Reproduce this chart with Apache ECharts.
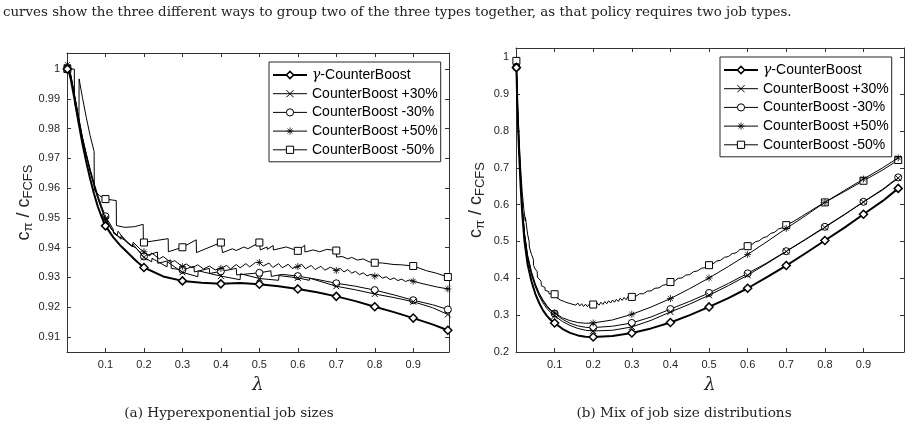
<!DOCTYPE html>
<html>
<head>
<meta charset="utf-8">
<title>CounterBoost</title>
<script src="https://cdn.jsdelivr.net/npm/echarts@6/dist/echarts.min.js"></script>
<style>
    html, body { margin: 0; padding: 0; background: #fff; }
    #main { width: 912px; height: 429px; }
</style>
</head>
<body>
<div id="main"></div>
<script>
// ticks
var xTicks = [0.1, 0.2, 0.3, 0.4, 0.5, 0.6, 0.7, 0.8, 0.9];
var leftYTicks = [0.91, 0.92, 0.93, 0.94, 0.95, 0.96, 0.97, 0.98, 0.99, 1];
var rightYTicks = [0.2, 0.3, 0.4, 0.5, 0.6, 0.7, 0.8, 0.9, 1];
// lambda values that carry a marker
var markerLambdas = [0.001, 0.1, 0.2, 0.3, 0.4, 0.5, 0.6, 0.7, 0.8, 0.9, 0.99];

var seriesNames = ['γ-CounterBoost', 'CounterBoost +30%', 'CounterBoost -30%', 'CounterBoost +50%', 'CounterBoost -50%'];

// (a) Hyperexponential job sizes  [lambda, c_pi / c_FCFS]
var leftGamma = [[0.001,1.0],[0.005,0.999],[0.01,0.9965],[0.02,0.9895],[0.03,0.982],[0.04,0.975],[0.05,0.9688],[0.06,0.9632],[0.07,0.9582],[0.08,0.9538],[0.09,0.9503],[0.1,0.9473],[0.12,0.9435],[0.14,0.9405],[0.16,0.938],[0.18,0.9355],[0.2,0.9333],[0.25,0.9303],[0.3,0.9288],[0.35,0.9282],[0.4,0.9278],[0.45,0.9281],[0.5,0.9277],[0.55,0.927],[0.6,0.9261],[0.65,0.925],[0.7,0.9236],[0.75,0.922],[0.8,0.9201],[0.85,0.9183],[0.9,0.9163],[0.95,0.9142],[0.99,0.9122]];

var leftPlus30 = [[0.001,1.0005],[0.01,0.9975],[0.02,0.9905],[0.03,0.9832],[0.04,0.9765],[0.05,0.9708],[0.06,0.9655],[0.07,0.9608],[0.08,0.9565],[0.09,0.9528],[0.1,0.9495],[0.12,0.9455],[0.14,0.9428],[0.141,0.944],[0.17,0.9402],[0.171,0.9412],[0.2,0.9367],[0.22,0.9352],[0.221,0.9364],[0.26,0.9335],[0.261,0.9352],[0.3,0.9317],[0.34,0.9302],[0.341,0.9322],[0.4,0.9304],[0.45,0.9292],[0.451,0.9312],[0.5,0.9296],[0.55,0.929],[0.551,0.9306],[0.6,0.9298],[0.63,0.929],[0.631,0.9297],[0.7,0.927],[0.75,0.9258],[0.8,0.9244],[0.85,0.9232],[0.9,0.9218],[0.95,0.9198],[0.99,0.9175]];

var leftMinus30 = [[0.001,1.0],[0.01,0.9978],[0.02,0.991],[0.03,0.9838],[0.04,0.9772],[0.05,0.9715],[0.06,0.9664],[0.07,0.9618],[0.08,0.9576],[0.09,0.9539],[0.1,0.9505],[0.12,0.9462],[0.121,0.9448],[0.15,0.9425],[0.16,0.9412],[0.18,0.9398],[0.2,0.937],[0.235,0.9385],[0.236,0.9347],[0.27,0.9358],[0.271,0.933],[0.3,0.9325],[0.33,0.9337],[0.331,0.9318],[0.37,0.933],[0.371,0.9313],[0.4,0.932],[0.44,0.933],[0.441,0.9308],[0.5,0.9315],[0.53,0.9322],[0.531,0.9303],[0.56,0.931],[0.6,0.9304],[0.65,0.9293],[0.7,0.928],[0.75,0.927],[0.8,0.9257],[0.85,0.9241],[0.9,0.9223],[0.95,0.9208],[0.99,0.9192]];

var leftPlus50 = [[0.001,1.0015],[0.01,0.998],[0.02,0.991],[0.03,0.984],[0.04,0.977],[0.05,0.9715],[0.06,0.966],[0.07,0.9615],[0.08,0.957],[0.09,0.9532],[0.1,0.9498],[0.115,0.9462],[0.13,0.944],[0.133,0.9455],[0.15,0.9425],[0.17,0.9405],[0.172,0.9418],[0.19,0.9395],[0.2,0.9386],[0.215,0.9372],[0.22,0.9382],[0.24,0.9362],[0.25,0.937],[0.27,0.935],[0.28,0.9356],[0.3,0.9336],[0.31,0.9345],[0.325,0.9332],[0.34,0.9342],[0.355,0.9328],[0.37,0.9338],[0.385,0.9325],[0.4,0.933],[0.415,0.934],[0.425,0.9328],[0.44,0.9343],[0.45,0.9332],[0.465,0.9346],[0.475,0.9335],[0.49,0.935],[0.5,0.935],[0.51,0.9338],[0.525,0.9348],[0.535,0.9333],[0.55,0.9346],[0.56,0.9332],[0.575,0.9344],[0.585,0.933],[0.6,0.9336],[0.61,0.9344],[0.62,0.9329],[0.635,0.934],[0.645,0.9326],[0.66,0.9337],[0.67,0.9324],[0.685,0.9334],[0.7,0.9323],[0.71,0.933],[0.72,0.9318],[0.73,0.9326],[0.74,0.9314],[0.75,0.932],[0.76,0.9309],[0.77,0.9315],[0.78,0.9305],[0.79,0.931],[0.8,0.9304],[0.81,0.9308],[0.82,0.9297],[0.83,0.9302],[0.84,0.9292],[0.85,0.9298],[0.86,0.9289],[0.87,0.9294],[0.88,0.9286],[0.89,0.9291],[0.9,0.9287],[0.92,0.928],[0.94,0.9274],[0.96,0.9268],[0.99,0.9261]];

var leftMinus50 = [[0.001,1.0],[0.019,1.0],[0.0195,0.989],[0.025,0.9855],[0.031,0.9815],[0.0315,0.9967],[0.04,0.9905],[0.05,0.9838],[0.06,0.9777],[0.0705,0.9723],[0.071,0.9592],[0.085,0.9574],[0.1,0.9563],[0.128,0.9558],[0.1285,0.9474],[0.15,0.9468],[0.175,0.947],[0.198,0.9478],[0.1985,0.9417],[0.2,0.9417],[0.263,0.943],[0.2635,0.9386],[0.3,0.9401],[0.336,0.9426],[0.3365,0.9383],[0.4,0.9417],[0.404,0.942],[0.4045,0.9383],[0.43,0.9396],[0.44,0.939],[0.46,0.9402],[0.47,0.9396],[0.5,0.9417],[0.502,0.9418],[0.5025,0.9392],[0.52,0.9402],[0.521,0.9394],[0.536,0.9407],[0.5365,0.9392],[0.57,0.9402],[0.6,0.9389],[0.618,0.9408],[0.6185,0.9385],[0.64,0.9392],[0.657,0.9386],[0.675,0.9394],[0.7,0.939],[0.7005,0.9368],[0.715,0.937],[0.73,0.9362],[0.74,0.9367],[0.755,0.9358],[0.77,0.9362],[0.785,0.9352],[0.8,0.9349],[0.82,0.9348],[0.85,0.9343],[0.87,0.9342],[0.9,0.9338],[0.935,0.9322],[0.96,0.9314],[0.99,0.9301]];

// (b) Mix of job size distributions
var rightGamma = [[0.001,0.9717],[0.004,0.85],[0.008,0.74],[0.012,0.65],[0.016,0.578],[0.022,0.5],[0.03,0.438],[0.04,0.392],[0.05,0.358],[0.06,0.333],[0.07,0.313],[0.08,0.298],[0.09,0.287],[0.1,0.2788],[0.12,0.263],[0.14,0.252],[0.16,0.245],[0.18,0.2415],[0.2,0.2408],[0.25,0.2435],[0.3,0.2516],[0.35,0.264],[0.4,0.28],[0.45,0.3],[0.5,0.3223],[0.55,0.346],[0.6,0.373],[0.65,0.403],[0.7,0.4346],[0.75,0.468],[0.8,0.5025],[0.85,0.537],[0.9,0.5738],[0.95,0.61],[0.99,0.644]];

var rightPlus30 = [[0.001,0.973],[0.004,0.855],[0.008,0.748],[0.012,0.66],[0.016,0.59],[0.022,0.515],[0.03,0.455],[0.04,0.41],[0.05,0.377],[0.06,0.352],[0.07,0.333],[0.08,0.318],[0.09,0.307],[0.1,0.298],[0.12,0.283],[0.14,0.272],[0.16,0.264],[0.18,0.259],[0.2,0.257],[0.25,0.259],[0.3,0.268],[0.35,0.286],[0.4,0.3087],[0.45,0.33],[0.5,0.354],[0.55,0.38],[0.6,0.4084],[0.65,0.44],[0.7,0.4727],[0.75,0.505],[0.8,0.538],[0.85,0.572],[0.9,0.607],[0.95,0.64],[0.99,0.672]];

var rightMinus30 = [[0.001,0.974],[0.004,0.858],[0.008,0.752],[0.012,0.665],[0.016,0.595],[0.022,0.52],[0.03,0.46],[0.04,0.415],[0.05,0.382],[0.06,0.357],[0.07,0.338],[0.08,0.323],[0.09,0.312],[0.1,0.3043],[0.12,0.289],[0.14,0.278],[0.16,0.271],[0.18,0.267],[0.2,0.2663],[0.25,0.27],[0.3,0.2788],[0.35,0.295],[0.4,0.3165],[0.45,0.3375],[0.5,0.3603],[0.55,0.386],[0.6,0.4135],[0.65,0.442],[0.7,0.4736],[0.75,0.506],[0.8,0.5397],[0.85,0.573],[0.9,0.6076],[0.95,0.642],[0.99,0.6739]];

var rightPlus50 = [[0.001,0.975],[0.004,0.86],[0.008,0.755],[0.012,0.668],[0.016,0.598],[0.022,0.523],[0.03,0.463],[0.04,0.418],[0.05,0.385],[0.06,0.36],[0.07,0.341],[0.08,0.326],[0.09,0.314],[0.1,0.306],[0.12,0.293],[0.14,0.285],[0.16,0.28],[0.18,0.278],[0.2,0.2788],[0.25,0.287],[0.3,0.3024],[0.35,0.322],[0.4,0.345],[0.45,0.372],[0.5,0.401],[0.55,0.432],[0.6,0.4647],[0.65,0.4995],[0.7,0.5353],[0.75,0.57],[0.8,0.606],[0.85,0.638],[0.9,0.6693],[0.95,0.7],[0.99,0.727]];

var rightMinus50 = [[0.001,0.99],[0.004,0.88],[0.008,0.78],[0.012,0.7],[0.016,0.635],[0.02,0.59],[0.024,0.555],[0.0245,0.565],[0.03,0.52],[0.034,0.5],[0.0345,0.485],[0.04,0.465],[0.045,0.452],[0.0455,0.435],[0.05,0.425],[0.055,0.418],[0.0555,0.403],[0.06,0.398],[0.065,0.392],[0.0655,0.38],[0.07,0.378],[0.075,0.375],[0.0755,0.367],[0.08,0.366],[0.085,0.364],[0.0855,0.358],[0.09,0.3575],[0.1,0.3568],
    [0.105,0.348],[0.11,0.351],[0.115,0.341],[0.12,0.346],[0.125,0.337],[0.13,0.342],[0.135,0.333],[0.14,0.338],[0.145,0.33],[0.15,0.335],[0.155,0.327],[0.16,0.333],[0.165,0.325],[0.17,0.331],[0.175,0.3235],[0.18,0.33],[0.185,0.323],[0.19,0.33],[0.195,0.324],[0.2,0.3288],
    [0.205,0.325],[0.21,0.333],[0.215,0.327],[0.22,0.335],[0.225,0.329],[0.23,0.337],[0.235,0.331],[0.24,0.339],[0.245,0.333],[0.25,0.341],[0.255,0.335],[0.26,0.343],[0.265,0.337],[0.27,0.346],[0.275,0.34],[0.28,0.348],[0.285,0.342],[0.29,0.35],[0.295,0.344],[0.3,0.3495],
    [0.31,0.351],[0.32,0.358],[0.33,0.358],[0.34,0.365],[0.35,0.366],[0.36,0.373],[0.37,0.374],[0.38,0.381],[0.39,0.383],[0.4,0.39],
    [0.41,0.392],[0.42,0.4],[0.43,0.401],[0.44,0.409],[0.45,0.41],[0.46,0.418],[0.47,0.42],[0.48,0.427],[0.49,0.429],[0.5,0.4356],
    [0.51,0.439],[0.52,0.447],[0.53,0.449],[0.54,0.457],[0.55,0.459],[0.56,0.467],[0.57,0.469],[0.58,0.478],[0.59,0.48],[0.6,0.4872],
    [0.61,0.491],[0.62,0.499],[0.63,0.502],[0.64,0.51],[0.65,0.513],[0.66,0.522],[0.67,0.525],[0.68,0.534],[0.69,0.537],[0.7,0.5443],
    [0.72,0.555],[0.74,0.568],[0.76,0.581],[0.78,0.594],[0.8,0.606],[0.85,0.635],[0.9,0.6647],[0.95,0.694],[0.99,0.721]];

var chart = echarts.init(document.getElementById('main'));

var axisColor = '#333';
var labelColor = '#262626';

// marker styles, same order as seriesNames
var markStyles = [
    {symbol: 'diamond', size: 8, fill: '#fff', width: 2, border: 1.5, z: 6},
    {symbol: 'path://M0,0L10,10M10,0L0,10', size: 6, fill: '#000', width: 1, border: 1, z: 4},
    {symbol: 'circle', size: 7, fill: '#fff', width: 1, border: 1, z: 3},
    {symbol: 'path://M5,0L5,10M0,5L10,5M1.5,1.5L8.5,8.5M8.5,1.5L1.5,8.5', size: 7, fill: '#000', width: 1, border: 0.8, z: 5},
    {symbol: 'rect', size: 7, fill: '#fff', width: 1, border: 1, z: 2}
];

function withMarkers(points) {
    return points.map(function (p) {
        var hit = markerLambdas.some(function (m) { return Math.abs(m - p[0]) < 1e-9; });
        return hit ? p : {value: p, symbol: 'none'};
    });
}

function makeSeries(i, points, panel) {
    var st = markStyles[i];
    return {
        name: seriesNames[i],
        type: 'line',
        xAxisIndex: panel * 2,
        yAxisIndex: panel * 2,
        data: withMarkers(points),
        symbol: st.symbol,
        symbolSize: st.size,
        showAllSymbol: true,
        lineStyle: {color: '#000', width: st.width},
        itemStyle: {color: st.fill, borderColor: '#000', borderWidth: st.border},
        emphasis: {disabled: true},
        z: st.z
    };
}

var yName = '{c|c}{s|π}{c| / c}{s|FCFS}';
var yNameStyle = {
    rich: {
        c: {fontFamily: 'Liberation Sans', fontSize: 18, color: labelColor, lineHeight: 20, verticalAlign: 'top'},
        s: {fontFamily: 'Liberation Sans', fontSize: 13, color: labelColor, lineHeight: 13, padding: [14, 0, 0, 0], verticalAlign: 'bottom'}
    }
};

function xAxisFor(gridIndex, max, top) {
    return {
        type: 'value', gridIndex: gridIndex, min: 0, max: max,
        position: top ? 'top' : 'bottom',
        axisLine: {show: true, onZero: false, lineStyle: {color: axisColor, width: 1}},
        axisTick: {show: true, inside: true, length: 4, customValues: xTicks, lineStyle: {color: axisColor}},
        axisLabel: {show: !top, customValues: xTicks, margin: 7, fontFamily: 'Liberation Sans', fontSize: 11, color: labelColor,
            formatter: function (v) { return v.toFixed(1); }},
        splitLine: {show: false},
        name: top ? '' : 'λ', nameLocation: 'middle', nameGap: 24,
        nameTextStyle: {fontFamily: 'DejaVu Serif', fontStyle: 'italic', fontSize: 18, color: labelColor}
    };
}

function yAxisFor(gridIndex, min, max, ticks, digits, right, gap) {
    return {
        type: 'value', gridIndex: gridIndex, min: min, max: max,
        position: right ? 'right' : 'left',
        axisLine: {show: true, onZero: false, lineStyle: {color: axisColor, width: 1}},
        axisTick: {show: true, inside: true, length: 4, customValues: ticks, lineStyle: {color: axisColor}},
        axisLabel: {show: !right, customValues: ticks, margin: 7, fontFamily: 'Liberation Sans', fontSize: 11, color: labelColor,
            formatter: function (v) { return v === 1 ? '1' : v.toFixed(digits); }},
        splitLine: {show: false},
        name: right ? '' : yName, nameLocation: 'middle', nameRotate: 90, nameGap: gap,
        nameTextStyle: yNameStyle
    };
}

function legendAt(left, top) {
    return {
        orient: 'vertical', left: left, top: top,
        padding: [6, 3, 5, 3], itemGap: 4.7, itemWidth: 34, itemHeight: 9,
        borderColor: '#262626', borderWidth: 1, backgroundColor: '#fff',
        selectedMode: false,
        data: seriesNames.map(function (n, i) {
            return {
                name: n,
                lineStyle: {width: markStyles[i].width},
                itemStyle: {borderWidth: markStyles[i].border}
            };
        }),
        formatter: function (n) { return n === seriesNames[0] ? '{g|γ}-CounterBoost' : n; },
        textStyle: {
            fontFamily: 'Liberation Sans', fontSize: 14, color: '#000', lineHeight: 14,
            rich: {g: {fontFamily: 'DejaVu Serif', fontStyle: 'italic', fontSize: 14, lineHeight: 14, color: '#000'}}
        }
    };
}

var serifText = {fontFamily: 'DejaVu Serif', fontSize: 13.6, fill: '#222'};

var option = {
    animation: false,
    backgroundColor: '#fff',
    grid: [
        {left: 67, top: 53, width: 382, height: 299},
        {left: 516, top: 48, width: 388, height: 304}
    ],
    xAxis: [
        xAxisFor(0, 0.993, false), xAxisFor(0, 0.993, true),
        xAxisFor(1, 1.005, false), xAxisFor(1, 1.005, true)
    ],
    yAxis: [
        yAxisFor(0, 0.9049, 1.0054, leftYTicks, 2, false, 31), yAxisFor(0, 0.9049, 1.0054, leftYTicks, 2, true, 0),
        yAxisFor(1, 0.2, 1.025, rightYTicks, 1, false, 29), yAxisFor(1, 0.2, 1.025, rightYTicks, 1, true, 0)
    ],
    legend: [legendAt(269, 62), legendAt(720, 57)],
    series: [
        makeSeries(4, leftMinus50, 0), makeSeries(2, leftMinus30, 0), makeSeries(1, leftPlus30, 0),
        makeSeries(3, leftPlus50, 0), makeSeries(0, leftGamma, 0),
        makeSeries(4, rightMinus50, 1), makeSeries(2, rightMinus30, 1), makeSeries(1, rightPlus30, 1),
        makeSeries(3, rightPlus50, 1), makeSeries(0, rightGamma, 1)
    ],
    graphic: [
        {type: 'text', x: 3, y: 13, style: Object.assign({text: 'curves show the three different ways to group two of the three types together, as that policy requires two job types.', align: 'left', verticalAlign: 'middle'}, serifText, {fontSize: 13.4})},
        {type: 'text', x: 229, y: 413, style: Object.assign({text: '(a) Hyperexponential job sizes', align: 'center', verticalAlign: 'middle'}, serifText)},
        {type: 'text', x: 684, y: 413, style: Object.assign({text: '(b) Mix of job size distributions', align: 'center', verticalAlign: 'middle'}, serifText)}
    ]
};

chart.setOption(option);
</script>
</body>
</html>
